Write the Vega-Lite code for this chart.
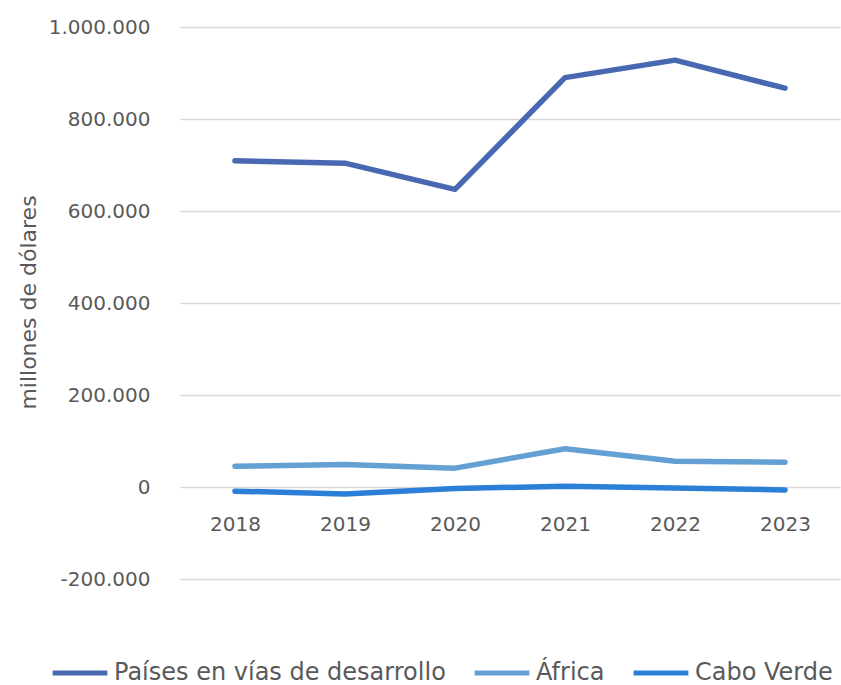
{
  "$schema": "https://vega.github.io/schema/vega-lite/v6.json",
  "width": 660,
  "height": 552,
  "autosize": {"type": "none"},
  "padding": {"left": 180, "top": 27, "right": 1, "bottom": 106},
  "background": "white",
  "config": {
    "locale": {"number": {"decimal": ",", "thousands": ".", "grouping": [3], "currency": ["", " €"], "minus": "-"}},
    "font": "DejaVu Sans",
    "view": {"stroke": null},
    "axis": {"labelColor": "#595959", "titleColor": "#595959", "labelFont": "DejaVu Sans", "titleFont": "DejaVu Sans"},
    "legend": {"labelColor": "#595959", "labelFont": "DejaVu Sans"}
  },
  "data": {
    "values": [
      {"year": "2018", "serie": "Países en vías de desarrollo", "value": 709000},
      {"year": "2019", "serie": "Países en vías de desarrollo", "value": 704000},
      {"year": "2020", "serie": "Países en vías de desarrollo", "value": 647000},
      {"year": "2021", "serie": "Países en vías de desarrollo", "value": 890000},
      {"year": "2022", "serie": "Países en vías de desarrollo", "value": 928000},
      {"year": "2023", "serie": "Países en vías de desarrollo", "value": 867000},
      {"year": "2018", "serie": "África", "value": 45000},
      {"year": "2019", "serie": "África", "value": 49000},
      {"year": "2020", "serie": "África", "value": 41000},
      {"year": "2021", "serie": "África", "value": 83000},
      {"year": "2022", "serie": "África", "value": 56000},
      {"year": "2023", "serie": "África", "value": 54000},
      {"year": "2018", "serie": "Cabo Verde", "value": -9000},
      {"year": "2019", "serie": "Cabo Verde", "value": -15000},
      {"year": "2020", "serie": "Cabo Verde", "value": -3000},
      {"year": "2021", "serie": "Cabo Verde", "value": 1500},
      {"year": "2022", "serie": "Cabo Verde", "value": -2000},
      {"year": "2023", "serie": "Cabo Verde", "value": -6500}
    ]
  },
  "mark": {"type": "line", "strokeWidth": 5.5, "strokeCap": "round", "strokeJoin": "round"},
  "encoding": {
    "x": {
      "field": "year", "type": "ordinal",
      "scale": {"type": "point", "padding": 0.5},
      "axis": {"title": null, "labelAngle": 0, "domain": false, "ticks": false, "grid": false,
               "offset": -91, "labelPadding": 26, "labelFontSize": 20}
    },
    "y": {
      "field": "value", "type": "quantitative",
      "scale": {"domain": [-200000, 1000000], "nice": false, "zero": false},
      "axis": {
        "values": [-200000, 0, 200000, 400000, 600000, 800000, 1000000],
        "format": ",d", "domain": false, "ticks": false,
        "gridColor": "#d9d9d9", "gridWidth": 1.5,
        "labelPadding": 30, "labelFontSize": 20,
        "title": "millones de dólares", "titleFontSize": 22, "titleFontWeight": "normal",
        "titleX": -152, "titleY": 275, "titleAngle": -90, "titleAlign": "center", "titleBaseline": "middle"
      }
    },
    "color": {
      "field": "serie", "type": "nominal",
      "scale": {"domain": ["Países en vías de desarrollo", "África", "Cabo Verde"], "range": ["#4869B1", "#64A0D4", "#2B7FD6"]},
      "legend": {
        "title": null, "orient": "none", "direction": "horizontal",
        "legendX": -130, "legendY": 616, "padding": 0,
        "symbolType": "stroke", "symbolStrokeWidth": 5, "symbolSize": 3000,
        "labelFontSize": 24, "labelOffset": 4, "labelLimit": 500, "columnPadding": 18
      }
    }
  }
}
